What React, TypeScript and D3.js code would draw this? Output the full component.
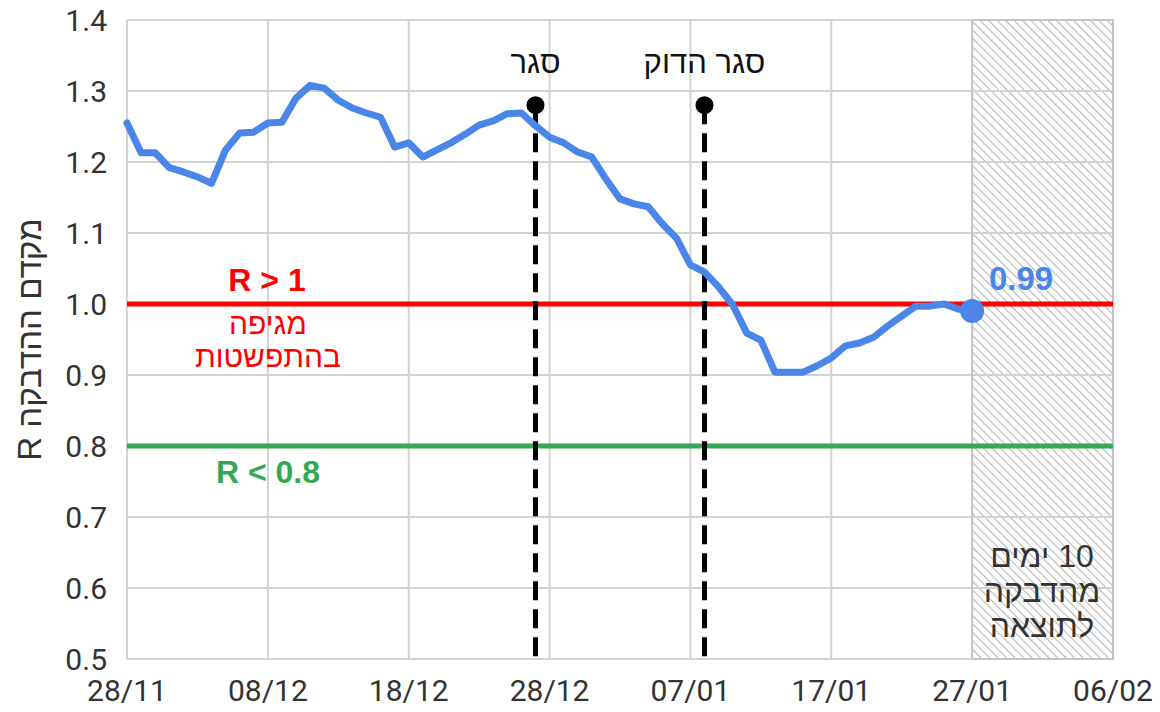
import React from "react";
import * as d3 from "d3";

// ---- data ----
// daily R values from 28/11 (day 0) to 27/01 (day 60)
const rValues = [
  1.255, 1.213, 1.213, 1.192, 1.186, 1.179, 1.17, 1.217, 1.241, 1.242,
  1.255, 1.256, 1.29, 1.308, 1.304, 1.287, 1.276, 1.269, 1.263, 1.221,
  1.227, 1.207, 1.217, 1.227, 1.239, 1.252, 1.258, 1.268, 1.269, 1.251,
  1.235, 1.227, 1.214, 1.207, 1.176, 1.148, 1.141, 1.137, 1.113, 1.093,
  1.055, 1.045, 1.024, 0.999, 0.959, 0.949, 0.904, 0.904, 0.904, 0.913,
  0.924, 0.941, 0.945, 0.953, 0.969, 0.983, 0.997, 0.997, 1.0, 0.993,
  0.99,
];
const xTickDays = [0, 10, 20, 30, 40, 50, 60, 70];
const xTickLabels = ["28/11", "08/12", "18/12", "28/12", "07/01", "17/01", "27/01", "06/02"];
const yTicks = [0.5, 0.6, 0.7, 0.8, 0.9, 1.0, 1.1, 1.2, 1.3, 1.4];
const eventDays = [29, 41];
const eventLabels = ["סגר", "סגר הדוק"];
const eventTopValue = 1.28;
const thresholdHigh = 1.0;
const thresholdLow = 0.8;
const lagStartDay = 60;
const lagEndDay = 70;
const lastLabel = "0.99";
const yAxisTitle = "R מקדם ההדבקה";
const highLabel = "R > 1";
const highSub = ["מגיפה", "בהתפשטות"];
const lowLabel = "R < 0.8";
const lagLabel = ["10 ימים", "מהדבקה", "לתוצאה"];

const W = 1160;
const H = 712;
const M = { left: 127, right: 1113, top: 20, bottom: 659 };
const FONT = "Roboto, 'Liberation Sans', Arial, sans-serif";
const BOLD = "'Liberation Sans', Arial, sans-serif";
const HEB = "'Liberation Sans', Arial, sans-serif";

export default function App() {
  const x = d3.scaleLinear().domain([0, 70]).range([M.left, M.right]);
  const y = d3.scaleLinear().domain([0.5, 1.4]).range([M.bottom, M.top]);
  const line = d3
    .line<number>()
    .x((_, i) => x(i))
    .y((d) => y(d));
  const lastIdx = rValues.length - 1;
  const grid = "#d2d2d2";

  return (
    <svg
      width={W}
      height={H}
      style={{ position: "absolute", left: 0, top: 0, background: "#fff" }}
    >
      <defs>
        <pattern
          id="hatch"
          patternUnits="userSpaceOnUse"
          width={6}
          height={6}
          patternTransform="rotate(-45)"
        >
          <rect width={6} height={6} fill="#fff" />
          <line x1={0} y1={0} x2={0} y2={6} stroke="#b8b8b8" strokeWidth={2.2} />
        </pattern>
      </defs>

      {/* hatched lag region */}
      <rect
        x={x(lagStartDay)}
        y={M.top}
        width={x(lagEndDay) - x(lagStartDay)}
        height={M.bottom - M.top}
        fill="url(#hatch)"
      />

      {/* grid */}
      {yTicks.map((t) => (
        <line key={"gy" + t} x1={M.left} x2={M.right} y1={y(t)} y2={y(t)} stroke={grid} strokeWidth={2} />
      ))}
      {xTickDays.map((d) => (
        <line key={"gx" + d} x1={x(d)} x2={x(d)} y1={M.top} y2={M.bottom} stroke={grid} strokeWidth={2} />
      ))}
      <rect
        x={x(lagStartDay)}
        y={M.top}
        width={x(lagEndDay) - x(lagStartDay)}
        height={M.bottom - M.top}
        fill="none"
        stroke="#c4c4c4"
        strokeWidth={2}
      />

      {/* tick labels */}
      {yTicks.map((t) => (
        <text
          key={"ty" + t}
          x={M.left - 20}
          y={y(t)}
          dy="0.36em"
          textAnchor="end"
          fontFamily={FONT}
          fontSize={30}
          fill="#333"
        >
          {t.toFixed(1)}
        </text>
      ))}
      {xTickDays.map((d, i) => (
        <text
          key={"tx" + d}
          x={x(d)}
          y={701}
          textAnchor="middle"
          fontFamily={FONT}
          fontSize={30}
          fill="#333"
        >
          {xTickLabels[i]}
        </text>
      ))}
      <text
        transform={`translate(41,${(M.top + M.bottom) / 2}) rotate(-90)`}
        textAnchor="middle"
        direction="ltr"
        fontFamily={HEB}
        fontSize={33}
        fill="#333"
      >
        {yAxisTitle}
      </text>

      {/* thresholds */}
      <line x1={M.left} x2={M.right} y1={y(thresholdHigh)} y2={y(thresholdHigh)} stroke="#ff0000" strokeWidth={5} />
      <line x1={M.left} x2={M.right} y1={y(thresholdLow)} y2={y(thresholdLow)} stroke="#34a853" strokeWidth={5} />
      <text x={267} y={291} textAnchor="middle" fontFamily={BOLD} fontWeight="bold" fontSize={32} fill="#ff0000">
        {highLabel}
      </text>
      {highSub.map((s, i) => (
        <text key={s} x={268} y={334 + i * 33} textAnchor="middle" direction="rtl" fontFamily={HEB} fontSize={30} fill="#ff0000">
          {s}
        </text>
      ))}
      <text x={268} y={483} textAnchor="middle" fontFamily={BOLD} fontWeight="bold" fontSize={32} fill="#34a853">
        {lowLabel}
      </text>

      {/* events */}
      {eventDays.map((d, i) => (
        <g key={"ev" + d}>
          <line
            x1={x(d)}
            x2={x(d)}
            y1={y(eventTopValue)}
            y2={M.bottom}
            stroke="#000"
            strokeWidth={5}
            strokeDasharray="19 9"
          />
          <circle cx={x(d)} cy={y(eventTopValue)} r={9} fill="#000" />
          <text x={x(d)} y={73} textAnchor="middle" direction="rtl" fontFamily={HEB} fontSize={31} fill="#111">
            {eventLabels[i]}
          </text>
        </g>
      ))}

      {/* R line */}
      <path
        d={line(rValues) || ""}
        fill="none"
        stroke="#4a86e8"
        strokeWidth={7}
        strokeLinejoin="round"
        strokeLinecap="round"
      />
      <circle cx={x(lastIdx)} cy={y(rValues[lastIdx])} r={12} fill="#4a86e8" />
      <text x={1021} y={290} textAnchor="middle" fontFamily={BOLD} fontWeight="bold" fontSize={33} fill="#4a86e8">
        {lastLabel}
      </text>

      {/* lag label */}
      {lagLabel.map((s, i) => (
        <text key={s} x={1042} y={567 + i * 35} textAnchor="middle" direction="rtl" fontFamily={HEB} fontSize={32} fill="#333">
          {s}
        </text>
      ))}
    </svg>
  );
}
